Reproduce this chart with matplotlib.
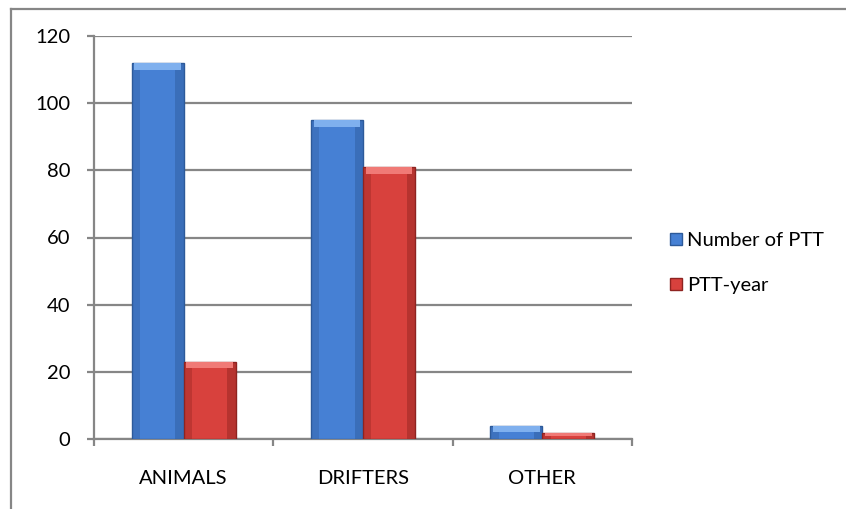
import matplotlib
matplotlib.use("Agg")
import matplotlib.pyplot as plt
from matplotlib.lines import Line2D
import numpy as np

categories = ["ANIMALS", "DRIFTERS", "OTHER"]
number_of_ptt = [112, 95, 4]
ptt_year = [23, 81, 1.7]
series_names = ["Number of PTT", "PTT-year"]
y_ticks = [0, 20, 40, 60, 80, 100, 120]

plt.rcParams["font.family"] = ["Lato", "DejaVu Sans"]

fig = plt.figure(figsize=(8.46, 5.09), dpi=100)
ax = fig.add_axes([94 / 846, 1 - 439 / 509, (632 - 94) / 846, (439 - 36) / 509])

x = np.arange(len(categories))
w = 0.29

styles = [
    dict(face="#4680d4", dark="#2d5a9a", light="#7fb0ee"),
    dict(face="#d8413d", dark="#8e2320", light="#f07a76"),
]

for k, (vals, st) in enumerate(zip([number_of_ptt, ptt_year], styles)):
    xs = x + (k - 0.5) * w
    ax.bar(xs, vals, width=w, color=st["face"], edgecolor=st["dark"],
           linewidth=1.0, zorder=3)
    # bevel: darker side strips and a light cap
    ax.bar(xs - w * 0.42, vals, width=w * 0.16, color=st["dark"], alpha=0.35,
           linewidth=0, zorder=4)
    ax.bar(xs + w * 0.42, vals, width=w * 0.16, color=st["dark"], alpha=0.45,
           linewidth=0, zorder=4)
    cap = np.minimum(np.array(vals) * 0.5, 2.0)
    ax.bar(xs, cap, bottom=np.array(vals) - cap, width=w * 0.9,
           color=st["light"], linewidth=0, zorder=5)

ax.set_xlim(-0.5, len(categories) - 0.5)
ax.set_ylim(0, 120)
ax.set_yticks(y_ticks)
ax.set_yticklabels([str(v) for v in y_ticks])
ax.yaxis.grid(True, color="#868686", linewidth=1.6, zorder=0)
ax.set_axisbelow(True)

ax.set_xticks(x)
ax.set_xticklabels(categories)
ax.set_xticks(np.arange(len(categories) + 1) - 0.5, minor=True)
ax.tick_params(axis="x", which="major", length=0, pad=22, labelsize=14.5)
ax.tick_params(axis="x", which="minor", length=5, width=1.6, color="#868686")
ax.tick_params(axis="y", length=5, width=1.6, color="#868686", pad=12, labelsize=14.5)

for side in ["top", "right"]:
    ax.spines[side].set_visible(False)
for side in ["left", "bottom"]:
    ax.spines[side].set_color("#868686")
    ax.spines[side].set_linewidth(1.6)

handles = [
    Line2D([], [], marker="s", linestyle="none", markersize=9,
           markerfacecolor=st["face"], markeredgecolor=st["dark"])
    for st in styles
]
fig.legend(handles, series_names, loc="center left",
           bbox_to_anchor=(650 / 846, 1 - 263 / 509), frameon=False,
           fontsize=14.5, handletextpad=0.15, labelspacing=1.35, handlelength=0.8)

# outer chart frame
fig.add_artist(Line2D([11 / 846, 1.0], [1 - 9 / 509, 1 - 9 / 509],
                      transform=fig.transFigure, color="#868686", linewidth=1.6))
fig.add_artist(Line2D([11 / 846, 11 / 846], [0.0, 1 - 9 / 509],
                      transform=fig.transFigure, color="#868686", linewidth=1.6))

fig.savefig("out.png", dpi=100)
